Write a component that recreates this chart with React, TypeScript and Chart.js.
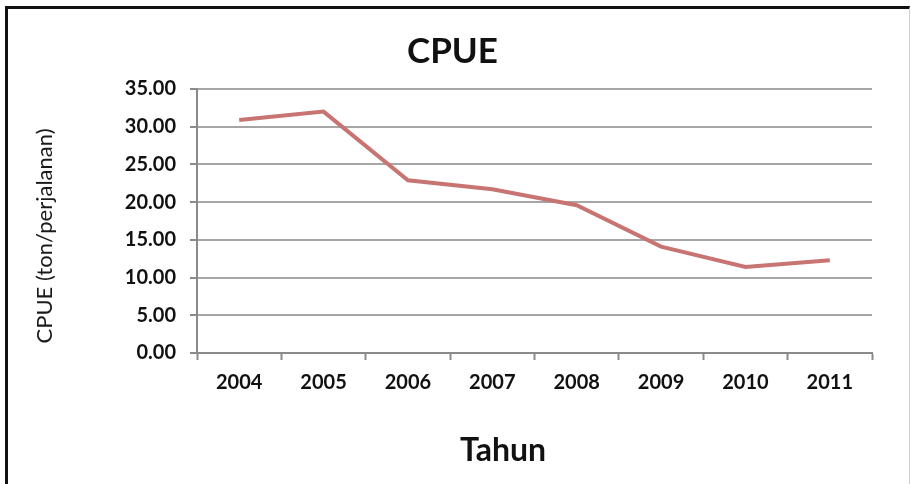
import React, { useEffect, useRef } from "react";
import { Chart, registerables } from "chart.js";

Chart.register(...registerables);

const years = ["2004", "2005", "2006", "2007", "2008", "2009", "2010", "2011"];
const cpue = [30.9, 32.0, 22.9, 21.7, 19.6, 14.1, 11.4, 12.3];
const yMin = 0;
const yMax = 35;
const yStep = 5;

const chartTitle = "CPUE";
const xTitle = "Tahun";
const yTitle = "CPUE (ton/perjalanan)";

const FONT = "Lato, 'Open Sans', sans-serif";

const axisTitles = {
  id: "axisTitles",
  afterDraw(chart: any) {
    const { ctx, chartArea } = chart;
    ctx.save();
    ctx.textAlign = "center";
    ctx.textBaseline = "middle";
    // x-axis title
    ctx.fillStyle = "#111";
    ctx.font = `bold 32px ${FONT}`;
    ctx.fillText(xTitle, chartArea.left + 306, chartArea.bottom + 98);
    // y-axis title (rotated)
    ctx.fillStyle = "#1a1a1a";
    ctx.font = `normal 22px ${FONT}`;
    ctx.translate(45, chartArea.top + 147);
    ctx.rotate(-Math.PI / 2);
    ctx.fillText(yTitle, 0, 0);
    ctx.restore();
  },
};

export default function App() {
  const ref = useRef<HTMLCanvasElement | null>(null);

  useEffect(() => {
    if (!ref.current) return;
    const chart = new Chart(ref.current, {
      type: "line",
      data: {
        labels: years,
        datasets: [
          {
            data: cpue,
            borderColor: "#c87472",
            borderWidth: 4,
            pointRadius: 0,
            tension: 0,
            fill: false,
          },
        ],
      },
      plugins: [axisTitles],
      options: {
        responsive: false,
        animation: false,
        layout: { padding: { left: 33, right: 39, top: 0, bottom: 0 } },
        plugins: {
          legend: { display: false },
          tooltip: { enabled: false },
          title: {
            display: true,
            text: chartTitle,
            color: "#111",
            font: { family: FONT, size: 35, weight: "bold" },
            padding: { top: 31, bottom: 16 },
          },
        },
        scales: {
          x: {
            offset: true,
            grid: {
              display: true,
              drawOnChartArea: false,
              drawTicks: true,
              tickLength: 7,
              tickColor: "#8a8a8a",
              tickWidth: 2,
              offset: true,
            },
            border: { color: "#8a8a8a", width: 2 },
            ticks: {
              color: "#111",
              font: { family: FONT, size: 20, weight: "bold" },
              padding: 11,
              maxRotation: 0,
            },
            afterFit: (s: any) => {
              s.height = 131;
            },
          },
          y: {
            min: yMin,
            max: yMax,
            grid: {
              color: "#a6a6a6",
              lineWidth: 2,
              tickLength: 7,
              tickColor: "#8a8a8a",
              tickWidth: 2,
            },
            border: { color: "#8a8a8a", width: 2 },
            ticks: {
              stepSize: yStep,
              color: "#111",
              font: { family: FONT, size: 20, weight: "bold" },
              padding: 14,
              callback: (v: any) => Number(v).toFixed(2),
            },
            afterFit: (s: any) => {
              s.width = 164;
            },
          },
        },
      },
    });
    return () => chart.destroy();
  }, []);

  return (
    <div
      style={{
        position: "fixed",
        left: 0,
        top: 0,
        width: 911,
        height: 484,
        background: "#fff",
        overflow: "hidden",
      }}
    >
      <div
        style={{
          position: "absolute",
          left: 5,
          top: 6,
          width: 901,
          height: 490,
          borderTop: "3px solid #111",
          borderLeft: "3px solid #111",
          borderRight: "1px solid #d0d0d0",
        }}
      />
      <canvas
        ref={ref}
        width={911}
        height={484}
        style={{ position: "absolute", left: 0, top: 0, width: 911, height: 484 }}
      />
    </div>
  );
}
